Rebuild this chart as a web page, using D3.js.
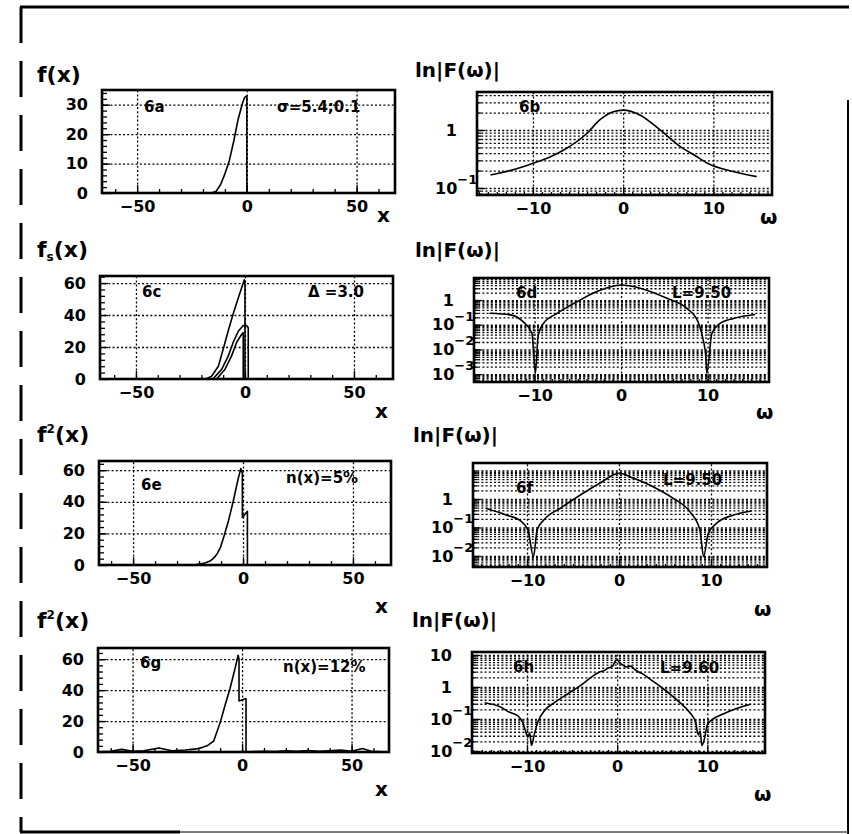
<!DOCTYPE html>
<html>
<head>
<meta charset="utf-8">
<title>Fig 6</title>
<style>
  body { margin: 0; background: #fff; }
  svg text { font-family: "DejaVu Sans", sans-serif; font-weight: bold; fill: #000; }
  .grid line { stroke: #000; stroke-width: 1.3; stroke-dasharray: 2 2.2; }
  .grid path, .tk path { display: none; }
  .tk line { stroke: #000; stroke-width: 1.3; }
</style>
</head>
<body>
<script src="https://d3js.org/d3.v7.min.js"></script>
<script>
// ---- 6a : f(x)
var aX = [-66, -16, -14, -12, -10, -8, -6, -4, -2, -1, 0, 0, 67];
var aY = [0, 0, 0.6, 2.8, 6.5, 11, 17.5, 25, 30.5, 32.5, 33, 0, 0];

// ---- 6b : |F(w)|
var bW = [-14.7, -12, -10, -8, -6.3, -4, -2.6, -1.1, 0, 1.9, 4.1, 6.3, 8, 9.3, 12.3, 14.8];
var bF = [0.168, 0.21, 0.267, 0.35, 0.48, 0.88, 1.49, 2.07, 2.2, 1.8, 1.0, 0.52, 0.36, 0.27, 0.19, 0.157];

// ---- 6c : three smeared curves
var c1X = [-66, -18, -15.3, -12.2, -10, -7.7, -5.4, -3, -0.3, 0, 0, 67];
var c1Y = [0, 0, 1.7, 8, 18.6, 30, 40.8, 51, 62, 61, 0, 0];
var c2X = [-14.7, -10.7, -7.6, -5.4, -3, -0.8, 0.8, 1.5, 1.5];
var c2Y = [0, 6, 14.6, 23, 30, 33.4, 33.4, 32, 0];
var c3X = [-13, -9.2, -6.1, -3.8, -1.5, -0.8, -0.8];
var c3Y = [0, 6, 14.6, 23, 28, 29, 0];

// ---- 6d
var dW = [-15.2, -12.8, -11.3, -10.3, -9.9, -9.6, -9, -7.4, -5.1, -2.8, -1.4, 0, 1.1, 2.2, 5.3, 7.6, 8.9, 9.5, 9.8, 9.9, 10.5, 11.4, 13, 15.5];
var dF = [0.29, 0.25, 0.13, 0.045, 0.0011, 0.033, 0.11, 0.29, 0.85, 2.2, 3.3, 4.05, 3.7, 3.0, 1.17, 0.46, 0.13, 0.024, 0.005, 0.0011, 0.045, 0.11, 0.18, 0.26];

// ---- 6e
var eX = [-66, -22, -19.5, -17, -15, -13.5, -11.8, -10.3, -9, -6.8, -4.5, -2.3, -1, -0.3, -0.3, 2, 2, 67];
var eY = [0, 0.2, 0.6, 1.4, 2.5, 4.2, 7, 11, 16.6, 27, 40, 54, 61, 58, 30, 34, 0, 0];

// ---- 6f
var fW = [-14.5, -12.2, -10.8, -9.9, -9.3, -8.9, -8.2, -6.4, -4.2, -2.1, 0, 1.6, 3.7, 5.9, 7.7, 8.8, 9.2, 9.7, 10.6, 12.4, 14.4];
var fF = [0.47, 0.27, 0.18, 0.082, 0.0094, 0.082, 0.18, 0.47, 1.38, 3.55, 8, 5.3, 2.7, 1.05, 0.36, 0.082, 0.0094, 0.062, 0.14, 0.27, 0.38];

// ---- 6g (12% noise)
var gX = [-64, -60, -55, -50, -45, -38, -32, -26, -21, -18, -16, -13, -10, -7.8, -5.5, -3.2, -1.8, -1.4, -1.4, 1.8, 1.8, 5, 10, 15, 20, 25, 30, 35, 40, 45, 50, 55, 59, 63];
var gY = [0.3, 0.5, 1.7, 0.5, 0.8, 2.6, 0.8, 1.3, 2, 3, 4, 7, 19, 30, 41, 54, 62.5, 60, 33, 34.5, 0, 0.3, 0.5, 0.3, 0.8, 0.5, 1, 0.5, 0.8, 1.2, 0.5, 2.3, 0.5, 0.3];

// ---- 6h
var hW = [-14.7, -13, -12, -11, -10.5, -10.2, -9.9, -9.7, -9.5, -9.2, -8.8, -8, -7, -6, -5, -4, -3, -2.5, -2, -1.5, -1, -0.5, -0.2, 0, 0.3, 0.6, 1, 1.5, 2, 3, 4, 5, 6, 7, 8, 8.7, 9, 9.2, 9.4, 9.7, 10, 10.5, 11, 12, 13, 14, 14.8];
var hF = [0.32, 0.24, 0.166, 0.124, 0.08, 0.045, 0.027, 0.037, 0.015, 0.032, 0.08, 0.19, 0.32, 0.49, 0.75, 1.15, 1.9, 2.4, 2.9, 3.2, 3.9, 4.5, 6.5, 7, 5.6, 4.9, 4.2, 4.5, 3.4, 2.4, 1.5, 0.93, 0.56, 0.32, 0.166, 0.08, 0.032, 0.042, 0.015, 0.025, 0.065, 0.093, 0.115, 0.154, 0.2, 0.25, 0.29];

// tick labels
var xTicksLeft = [-50, 0, 50];
var xTicksRight = [-10, 0, 10];
var yTicksA = [0, 10, 20, 30];
var yTicks60 = [0, 20, 40, 60];
var decB = [1, 0.1];
var decD = [1, 0.1, 0.01, 0.001];
var decF = [1, 0.1, 0.01];
var decH = [10, 1, 0.1, 0.01];

var svg = d3.select("body").append("svg").attr("width", 852).attr("height", 834);

// outer frame
svg.append("line").attr("x1", 20).attr("x2", 849).attr("y1", 7).attr("y2", 7)
  .attr("stroke", "#000").attr("stroke-width", 3);
svg.append("line").attr("x1", 21).attr("x2", 21).attr("y1", 7).attr("y2", 832)
  .attr("stroke", "#000").attr("stroke-width", 3).attr("stroke-dasharray", "36 18");
svg.append("line").attr("x1", 848).attr("x2", 848).attr("y1", 100).attr("y2", 834)
  .attr("stroke", "#000").attr("stroke-width", 2);
svg.append("line").attr("x1", 20).attr("x2", 180).attr("y1", 832).attr("y2", 832)
  .attr("stroke", "#000").attr("stroke-width", 3);
svg.append("line").attr("x1", 180).attr("x2", 848).attr("y1", 832).attr("y2", 832)
  .attr("stroke", "#555").attr("stroke-width", 1.5);

function styleAxis(sel, size) {
  sel.attr("font-family", null).attr("font-size", size);
}

function drawLin(p) {
  var b = p.box, w = b[2] - b[0], h = b[3] - b[1];
  var x = d3.scaleLinear().domain(p.xd).range([b[0], b[2]]);
  var y = d3.scaleLinear().domain(p.yd).range([b[3], b[1]]);
  var g = svg.append("g");

  g.append("g").attr("class", "grid").attr("transform", "translate(0," + b[3] + ")")
    .call(d3.axisBottom(x).tickValues(p.xt).tickSize(-h).tickFormat(""));
  g.append("g").attr("class", "grid").attr("transform", "translate(" + b[0] + ",0)")
    .call(d3.axisLeft(y).tickValues(p.yt.slice(1)).tickSize(-w).tickFormat(""));

  // minor ticks
  var xm = d3.range(-60, 61, 10);
  g.append("g").attr("class", "tk").attr("transform", "translate(0," + b[3] + ")")
    .call(d3.axisBottom(x).tickValues(xm).tickSize(-4).tickFormat(""));
  var step = p.yt[1] / 5;
  var ym = d3.range(step, p.yd[1], step);
  g.append("g").attr("class", "tk").attr("transform", "translate(" + b[0] + ",0)")
    .call(d3.axisLeft(y).tickValues(ym).tickSize(-5).tickFormat(""));

  // major ticks + labels
  g.append("g").attr("class", "tk").attr("transform", "translate(0," + b[3] + ")")
    .call(d3.axisBottom(x).tickValues(p.xt).tickSize(-8).tickPadding(8).tickFormat(d3.format("d")))
    .call(styleAxis, 16);
  g.append("g").attr("class", "tk").attr("transform", "translate(" + b[0] + ",0)")
    .call(d3.axisLeft(y).tickValues(p.yt).tickSize(-8).tickPadding(14))
    .call(styleAxis, 16);

  var line = d3.line().x(function(d) { return x(d[0]); }).y(function(d) { return y(d[1]); });
  p.series.forEach(function(s) {
    g.append("path").datum(d3.zip(s[0], s[1])).attr("d", line)
      .attr("fill", "none").attr("stroke", "#000").attr("stroke-width", 1.6)
      .attr("stroke-linejoin", "round");
  });

  g.append("rect").attr("x", b[0]).attr("y", b[1]).attr("width", w).attr("height", h)
    .attr("fill", "none").attr("stroke", "#000").attr("stroke-width", 2.6);
}

function drawLog(p) {
  var b = p.box, w = b[2] - b[0], h = b[3] - b[1];
  var x = d3.scaleLinear().domain(p.xd).range([b[0], b[2]]);
  var y = d3.scaleLog().domain(p.yd).range([b[3], b[1]]);
  var g = svg.append("g");

  var k0 = Math.floor(Math.log10(p.yd[0])), k1 = Math.ceil(Math.log10(p.yd[1]));
  var minor = [];
  for (var k = k0; k <= k1; k++) {
    for (var m = 1; m <= 9; m++) {
      var v = m * Math.pow(10, k);
      if (v >= p.yd[0] && v <= p.yd[1]) minor.push(v);
    }
  }

  g.append("g").attr("class", "grid").attr("transform", "translate(" + b[0] + ",0)")
    .call(d3.axisLeft(y).tickValues(minor).tickSize(-w).tickFormat(""));
  g.append("g").attr("class", "grid").attr("transform", "translate(0," + b[3] + ")")
    .call(d3.axisBottom(x).tickValues(xTicksRight).tickSize(-h).tickFormat(""));

  g.append("g").attr("class", "tk").attr("transform", "translate(" + b[0] + ",0)")
    .call(d3.axisLeft(y).tickValues(minor).tickSize(-4).tickFormat(""));
  g.append("g").attr("class", "tk").attr("transform", "translate(" + b[0] + ",0)")
    .call(d3.axisLeft(y).tickValues(p.dec).tickSize(-8).tickFormat(""));
  var xm = d3.range(Math.ceil(p.xd[0]), Math.floor(p.xd[1]) + 1);
  g.append("g").attr("class", "tk").attr("transform", "translate(0," + b[3] + ")")
    .call(d3.axisBottom(x).tickValues(xm).tickSize(-3).tickFormat(""));
  g.append("g").attr("class", "tk").attr("transform", "translate(0," + b[3] + ")")
    .call(d3.axisBottom(x).tickValues(xTicksRight).tickSize(-8).tickPadding(8).tickFormat(d3.format("d")))
    .call(styleAxis, 16);

  // decade labels
  p.dec.forEach(function(v) {
    var e = Math.round(Math.log10(v));
    var t = g.append("text").attr("y", y(v)).attr("dy", "0.36em").attr("font-size", 16);
    if (e === 0) {
      t.attr("x", b[0] - 20).attr("text-anchor", "end").text("1");
    } else if (e === 1) {
      t.attr("x", b[0] - 20).attr("text-anchor", "end").text("10");
    } else {
      t.attr("x", b[0] - 42).attr("text-anchor", "start");
      t.append("tspan").text("10");
      t.append("tspan").attr("font-size", 13).attr("dy", "-0.75em").text("\u2212" + (-e));
    }
  });

  var line = d3.line().curve(d3.curveMonotoneX)
    .x(function(d) { return x(d[0]); }).y(function(d) { return y(d[1]); });
  g.append("path").datum(d3.zip(p.w, p.f)).attr("d", line)
    .attr("fill", "none").attr("stroke", "#000").attr("stroke-width", 1.6)
    .attr("stroke-linejoin", "round");

  g.append("rect").attr("x", b[0]).attr("y", b[1]).attr("width", w).attr("height", h)
    .attr("fill", "none").attr("stroke", "#000").attr("stroke-width", 2.6);
}

drawLin({ box: [102, 90, 395, 193], xd: [-66, 67.5], yd: [0, 35], xt: xTicksLeft, yt: yTicksA,
  series: [[aX, aY]] });
drawLin({ box: [100, 276, 393, 379], xd: [-66.5, 67.9], yd: [0, 64.4], xt: xTicksLeft, yt: yTicks60,
  series: [[c1X, c1Y], [c2X, c2Y], [c3X, c3Y]] });
drawLin({ box: [99, 461, 391, 565], xd: [-65.5, 67.3], yd: [0, 65.8], xt: xTicksLeft, yt: yTicks60,
  series: [[eX, eY]] });
drawLin({ box: [98, 648, 389, 752], xd: [-65.8, 67.1], yd: [0, 67.2], xt: xTicksLeft, yt: yTicks60,
  series: [[gX, gY]] });

drawLog({ box: [477, 92, 772, 195], xd: [-16.2, 16.5], yd: [0.0757, 4.52], dec: decB, w: bW, f: bF });
drawLog({ box: [474, 278, 769, 382], xd: [-17.0, 17.1], yd: [4.8e-4, 7.8], dec: decD, w: dW, f: dF });
drawLog({ box: [473, 463, 767, 567], xd: [-15.87, 16.09], yd: [0.0041, 18.3], dec: decF, w: fW, f: fF });
drawLog({ box: [472, 652, 765, 753], xd: [-16.1, 16.4], yd: [0.00866, 12.4], dec: decH, w: hW, f: hF });

// annotations
function txt(x, y, s, size) {
  return svg.append("text").attr("x", x).attr("y", y).attr("font-size", size).text(s);
}
// y titles
txt(37, 82, "f(x)", 22);
var fs = svg.append("text").attr("x", 37).attr("y", 257).attr("font-size", 22);
fs.append("tspan").text("f");
fs.append("tspan").attr("font-size", 12).attr("dy", 4).text("s");
fs.append("tspan").attr("dy", -4).text("(x)");
[442, 628].forEach(function(yy) {
  var t = svg.append("text").attr("x", 37).attr("y", yy).attr("font-size", 22);
  t.append("tspan").text("f");
  t.append("tspan").attr("font-size", 12).attr("dy", -9).text("2");
  t.append("tspan").attr("dy", 9).text("(x)");
});
[[415, 77], [415, 257], [413, 442], [412, 627]].forEach(function(p) {
  txt(p[0], p[1], "ln|F(\u03c9)|", 20);
});
// axis names
[[377, 222], [375, 418], [375, 613], [375, 796]].forEach(function(p) { txt(p[0], p[1], "x", 20); });
[[760, 224], [756, 419], [754, 616], [754, 801]].forEach(function(p) { txt(p[0], p[1], "\u03c9", 20); });

// panel labels
txt(144, 112, "6a", 15);
txt(277, 112, "\u03c3=5.4;0.1", 15);
txt(519, 112, "6b", 15);
txt(142, 297, "6c", 15);
txt(308, 297, "\u0394 =3.0", 15);
txt(516, 298, "6d", 15);
txt(672, 298, "L=9.50", 15);
txt(141, 490, "6e", 15);
txt(286, 483, "n(x)=5%", 15);
txt(516, 493, "6f", 15);
txt(663, 485, "L=9.50", 15);
txt(140, 668, "6g", 15);
txt(283, 672, "n(x)=12%", 15);
txt(513, 672, "6h", 15);
txt(660, 673, "L=9.60", 15);
</script>
</body>
</html>
